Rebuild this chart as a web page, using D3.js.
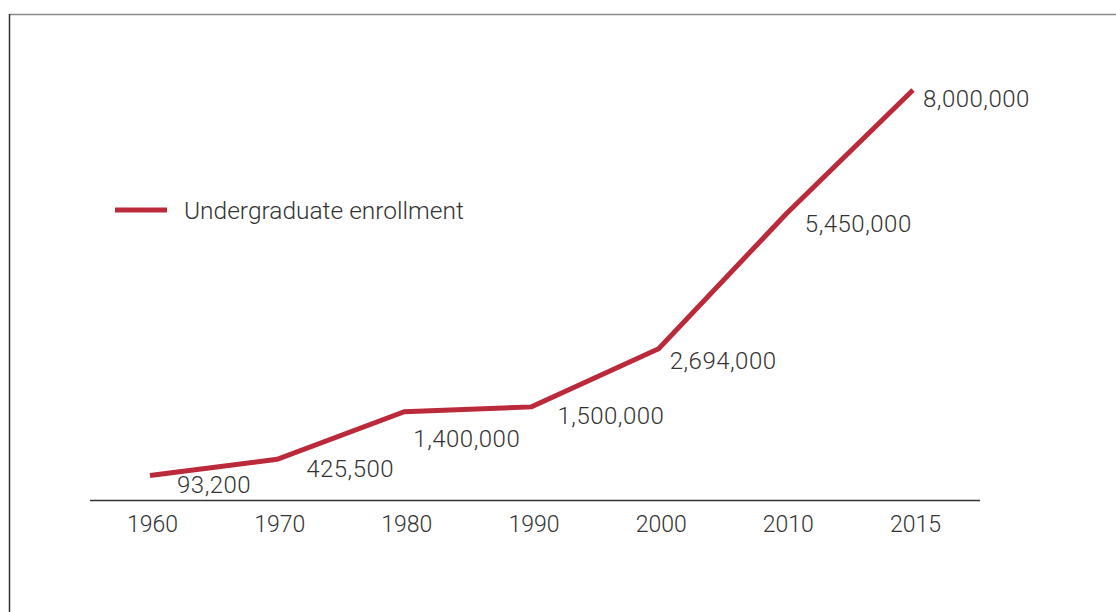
<!DOCTYPE html>
<html>
<head>
<meta charset="utf-8">
<script src="https://cdn.jsdelivr.net/npm/d3@7"></script>
<style>
  html, body { margin: 0; padding: 0; background: #fff; }
  svg { display: block; }
  text { font-family: Roboto, "Liberation Sans", sans-serif; font-weight: 300; fill: #333; }
</style>
</head>
<body>
<div id="chart"></div>
<script>
// Data
var years = ["1960", "1970", "1980", "1990", "2000", "2010", "2015"];
var enrollment = [93200, 425500, 1400000, 1500000, 2694000, 5450000, 8000000];
var seriesName = "Undergraduate enrollment";

// label nudges relative to each point (layout only)
var labelDx = [27, 29, 9, 26, 11, 19, 10];
var labelDy = [17.5, 17.7, 35, 17.4, 20.6, 17.4, 16.7];

var width = 1116, height = 612;
var RED = "#bb2a3a";

var svg = d3.select("#chart").append("svg")
  .attr("width", width)
  .attr("height", height);

// frame (only top + left edges show inside the window)
svg.append("line")
  .attr("x1", 9.5).attr("y1", 14.5).attr("x2", width).attr("y2", 14.5)
  .attr("stroke", "#8a8a8a").attr("stroke-width", 1.5);
svg.append("line")
  .attr("x1", 9.5).attr("y1", 14).attr("x2", 9.5).attr("y2", height)
  .attr("stroke", "#333").attr("stroke-width", 1.5);

var x = d3.scalePoint().domain(years).range([150, 913]);
var y = d3.scaleLinear().domain([0, 8000000]).range([480, 90]);

var points = years.map(function(yr, i) {
  return { year: yr, value: enrollment[i], i: i };
});

// baseline
svg.append("line")
  .attr("x1", 90).attr("x2", 980)
  .attr("y1", 500.5).attr("y2", 500.5)
  .attr("stroke", "#333").attr("stroke-width", 1.3);

// x axis labels
var xAxis = d3.axisBottom(x).tickSize(0).tickPadding(0);
var gx = svg.append("g")
  .attr("transform", "translate(2,515.5)")
  .call(xAxis);
gx.select(".domain").remove();
gx.selectAll("text")
  .attr("font-size", 23)
  .attr("dy", "0.71em")
  .style("font-family", "Roboto, sans-serif")
  .style("font-weight", 300)
  .attr("fill", "#333");

// the line
var line = d3.line()
  .x(function(d) { return x(d.year); })
  .y(function(d) { return y(d.value); });

svg.append("path")
  .datum(points)
  .attr("d", line)
  .attr("fill", "none")
  .attr("stroke", RED)
  .attr("stroke-width", 5)
  .attr("stroke-linejoin", "miter");

// value labels
svg.selectAll(".val").data(points)
  .enter().append("text")
    .attr("class", "val")
    .attr("x", function(d) { return x(d.year) + labelDx[d.i]; })
    .attr("y", function(d) { return y(d.value) + labelDy[d.i]; })
    .attr("font-size", 24)
    .style("letter-spacing", "0.5px")
    .text(function(d) { return d3.format(",")(d.value); });

// legend
svg.append("line")
  .attr("x1", 115).attr("x2", 167)
  .attr("y1", 210).attr("y2", 210)
  .attr("stroke", RED).attr("stroke-width", 5);
svg.append("text")
  .attr("x", 184).attr("y", 219)
  .attr("font-size", 24.5)
  .text(seriesName);
</script>
</body>
</html>
